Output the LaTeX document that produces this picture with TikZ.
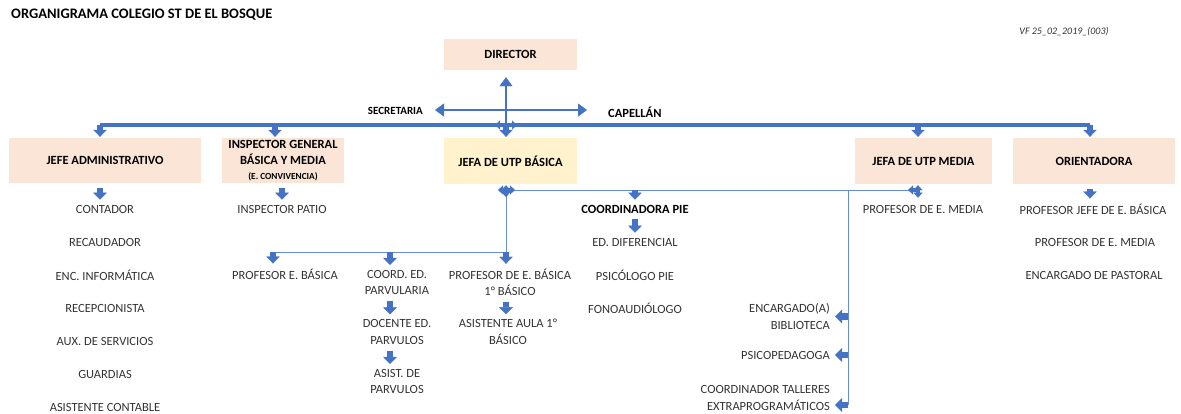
\documentclass[tikz,border=0pt]{standalone}
\usepackage{fontspec}
\setmainfont{Carlito}
\usetikzlibrary{arrows.meta}
\definecolor{azul}{HTML}{4472C4}
\definecolor{durazno}{HTML}{FBE5D6}
\definecolor{crema}{HTML}{FFF2CC}
\definecolor{texto}{HTML}{333333}

\begin{document}
\begin{tikzpicture}[x=1pt,y=-1pt,
    caja/.style={fill=durazno,inner sep=0pt,minimum height=46pt,
      font=\fontsize{12.5}{16}\selectfont\bfseries},
    cargo/.style={inner sep=1pt,text=texto,align=center,
      font=\fontsize{12.5}{16.5}\selectfont},
    jefe/.style={inner sep=1pt,font=\fontsize{12.5}{16}\selectfont\bfseries},
    flecha/.style={draw=azul,line width=6.5pt,
      -{Triangle[width=13.5pt,length=7pt,line width=0.4pt]},
      shorten <=5pt,shorten >=4pt},
    fina/.style={draw=azul,line width=2.5pt,
      -{Triangle[width=13pt,length=9pt,line width=0.4pt]}},
    flechita/.style={draw=azul,line width=3.5pt,
      -{Triangle[width=9pt,length=5pt,line width=0.4pt]}},
    bus/.style={draw=azul,line width=3.5pt},
    rama/.style={draw=azul!80,line width=0.9pt}]
  \useasboundingbox (0,0) rectangle (1181,413) ;
  \node[anchor=west,inner sep=0pt,font=\fontsize{14.5}{17}\selectfont\bfseries] %
    (titulo) at (11,15) {ORGANIGRAMA COLEGIO ST DE EL BOSQUE} ;
  \node[inner sep=0pt,text=texto,font=\fontsize{10}{12}\selectfont\itshape] %
    (version) at (1064,32) {VF 25\_02\_2019\_(003)} ;
  % cajas
  \node[caja,minimum width=133pt,minimum height=31pt] (director) at (510.5,54.5) {DIRECTOR} ;
  \node[caja,minimum width=192pt,minimum height=45pt] (jadm) at (105,160.5) {JEFE ADMINISTRATIVO} ;
  \node[caja,minimum width=122pt,minimum height=45pt,align=center] (insp) at (283,160.5) %
    {INSPECTOR GENERAL\\BÁSICA Y MEDIA\\[-1pt]{\fontsize{9.3}{11}\selectfont (E. CONVIVENCIA)}} ;
  \node[caja,fill=crema,minimum width=133pt] (utpb) at (510.5,161) {JEFA DE UTP BÁSICA} ;
  \node[caja,minimum width=137pt] (utpm) at (923.5,161) {JEFA DE UTP MEDIA} ;
  \node[caja,minimum width=162pt] (orient) at (1094,161) {ORIENTADORA} ;
  \node[jefe,anchor=east,font=\fontsize{11}{13}\selectfont\bfseries] (secretaria) at (424,111) {SECRETARIA} ;
  \node[jefe,anchor=west] (capellan) at (607,112) {CAPELLÁN} ;
  \node[jefe] (pie) at (635,209) {COORDINADORA PIE} ;
  % cargos
  \node[cargo] (contador) at (105,209) {CONTADOR} ;
  \node[cargo] (recaudador) at (105,242) {RECAUDADOR} ;
  \node[cargo] (informatica) at (105,275) {ENC. INFORMÁTICA} ;
  \node[cargo] (recepcion) at (105,308) {RECEPCIONISTA} ;
  \node[cargo] (auxiliar) at (105,341) {AUX. DE SERVICIOS} ;
  \node[cargo] (guardias) at (105,374) {GUARDIAS} ;
  \node[cargo] (contable) at (105,407) {ASISTENTE CONTABLE} ;
  \node[cargo] (patio) at (282,209) {INSPECTOR PATIO} ;
  \node[cargo] (profeb) at (285,274) {PROFESOR E. BÁSICA} ;
  \node[cargo] (coord) at (397,282.5) {COORD. ED.\\PARVULARIA} ;
  \node[cargo] (docente) at (397,332) {DOCENTE ED.\\PARVULOS} ;
  \node[cargo] (asistp) at (397,381.5) {ASIST. DE\\PARVULOS} ;
  \node[cargo] (prof1) at (510,282.5) {PROFESOR DE E. BÁSICA\\1° BÁSICO} ;
  \node[cargo] (aula) at (508,332) {ASISTENTE AULA 1°\\BÁSICO} ;
  \node[cargo] (diferencial) at (635,242) {ED. DIFERENCIAL} ;
  \node[cargo] (psicologo) at (635,275) {PSICÓLOGO PIE} ;
  \node[cargo] (fono) at (635,308) {FONOAUDIÓLOGO} ;
  \node[cargo,anchor=east,align=right] (biblio) at (831,316.5) {ENCARGADO(A)\\BIBLIOTECA} ;
  \node[cargo,anchor=east] (psicoped) at (831,355) {PSICOPEDAGOGA} ;
  \node[cargo,anchor=east,align=right] (talleres) at (831,398) {COORDINADOR TALLERES\\EXTRAPROGRAMÁTICOS} ;
  \node[cargo] (profm) at (923,209) {PROFESOR DE E. MEDIA} ;
  \node[cargo] (profjefe) at (1093,209) {PROFESOR JEFE DE E. BÁSICA} ;
  \node[cargo] (profm2) at (1095,242) {PROFESOR DE E. MEDIA} ;
  \node[cargo] (pastoral) at (1094,275) {ENCARGADO DE PASTORAL} ;
  % puntos de union
  \coordinate (eje) at (506,110) ;
  \coordinate (cruz) at (506,125) ;
  \coordinate (nudo) at (506,190) ;
  \coordinate (nudo2) at (918,190) ;
  \coordinate (pieb) at (635,190) ;
  \coordinate (bifur) at (506,252) ;
  \coordinate (r1) at (273,252) ;
  \coordinate (r2) at (390,252) ;
  \coordinate (vlinea) at (848,190) ;
  \coordinate (vfin) at (848,405) ;
  % director
  \draw[fina,shorten >=7pt] (cruz) -- (director.south -| cruz) ;
  \draw[fina,shorten >=11pt] (eje) -- (secretaria.east |- eje) ;
  \draw[fina,shorten >=20pt] (eje) -- (capellan.west |- eje) ;
  \draw[bus] (100,125) -- (1090,125) ;
  \foreach \n/\x in {jadm/100,insp/275,utpm/918,orient/1090}
    \draw[flecha,shorten <=0pt,shorten >=1pt] (\x,125) -- (\n.north -| \x,0) ;
  \draw[flecha,shorten <=0pt,shorten >=1pt] (cruz) -- (utpb.north -| cruz) ;
  \draw[flechita] (cruz) -- ++(-11,0) ;
  \draw[flechita] (cruz) -- ++(11,0) ;
  % ramas bajo las jefaturas
  \draw[rama] (nudo) -- (nudo2) ;
  \draw[rama] (nudo) -- (bifur) -- (r1) ;
  \draw[rama] (vlinea) -- (vfin) ;
  \draw[flechita,shorten >=1pt] (nudo) -- (utpb.south -| nudo) ;
  \draw[flechita] (nudo) -- ++(0,7) ;
  \draw[flechita] (nudo) -- ++(9,0) ;
  \draw[flechita] (nudo) -- ++(-8,0) ;
  \draw[flechita,shorten >=1pt] (nudo2) -- (utpm.south -| nudo2) ;
  \draw[flechita,shorten >=6pt] (nudo2) -- (profm.north -| nudo2) ;
  \draw[flechita] (nudo2) -- ++(-10,0) ;
  \draw[flecha,shorten <=0pt] (pieb) -- (pie) ;
  \draw[flecha] (pie) -- (diferencial) ;
  \draw[flecha,shorten <=0pt] (r1) -- (profeb.north -| r1) ;
  \draw[flecha,shorten <=0pt] (r2) -- (coord.north -| r2) ;
  \draw[flecha,shorten <=0pt] (bifur) -- (prof1.north -| bifur) ;
  \draw[flecha] (coord.south -| r2) -- (docente.north -| r2) ;
  \draw[flecha] (docente.south -| r2) -- (asistp.north -| r2) ;
  \draw[flecha] (prof1.south -| bifur) -- (aula.north -| bifur) ;
  \draw[flecha] (jadm.south -| 100,0) -- (contador.north -| 100,0) ;
  \draw[flecha] (insp.south -| patio) -- (patio) ;
  \draw[flecha] (orient.south -| 1090,0) -- (profjefe.north -| 1090,0) ;
  \draw[flecha,shorten <=0pt] (vlinea |- biblio.east) -- (biblio.east) ;
  \draw[flecha,shorten <=0pt] (vlinea |- psicoped.east) -- (psicoped.east) ;
  \draw[flecha,shorten <=0pt] (vfin) -- (vfin -| talleres.east) ;
\end{tikzpicture}
\end{document}
